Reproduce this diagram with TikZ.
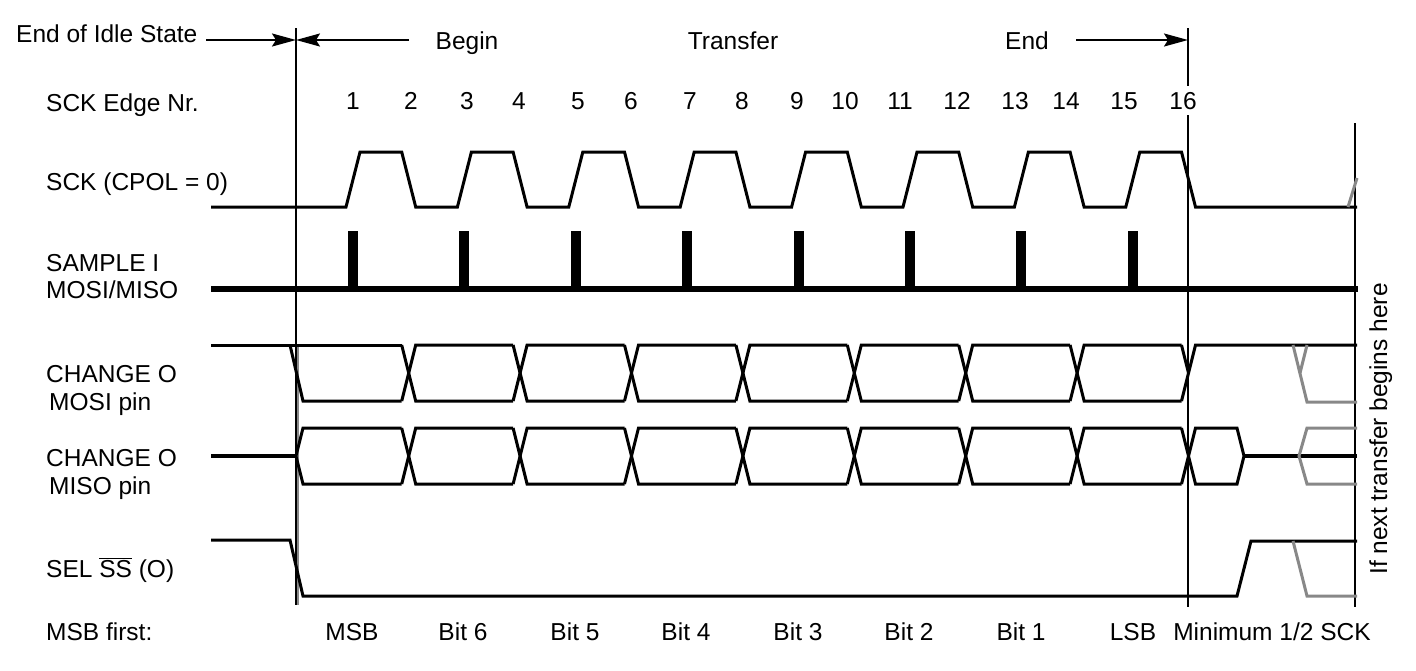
\documentclass[tikz,border=0pt]{standalone}
\usepackage{fontspec}
\setmainfont{Liberation Sans}
\usetikzlibrary{arrows.meta}
\definecolor{gr}{RGB}{136,136,136}
\begin{document}
\begin{tikzpicture}[x=1pt,y=-1pt,
  txt/.style={font=\fontsize{24.5}{29}\selectfont, inner sep=0pt},
  lbl/.style={txt, anchor=base west},
  ctr/.style={txt, anchor=base},
  sig/.style={line width=3pt, line cap=butt, line join=miter},
  thick sig/.style={line width=4pt},
  gsig/.style={sig, draw=gr},
  vline/.style={line width=2pt},
  arr/.style={line width=2pt, -{Stealth[length=24pt,width=13pt,inset=4pt]}},
  pulse/.style={fill=black, draw=none}]
\useasboundingbox (0,0) rectangle (1416,670);
\def\R{353}
\def\P{111.4}
% ---------- top labels ----------
\node[lbl] (idle) at (16,42) {End of Idle State};
\node[ctr] (begin) at (467,49) {Begin};
\node[ctr] (transfer) at (733,49) {Transfer};
\node[ctr] (endl) at (1027,49) {End};
% ---------- left labels ----------
\node[lbl] (ledge) at (46,111) {SCK Edge Nr.};
\node[lbl] (lsck) at (46,190) {SCK (CPOL = 0)};
\node[lbl] (lsam1) at (46,271) {SAMPLE I};
\node[lbl] (lsam2) at (46,298) {MOSI/MISO};
\node[lbl] (lmosi1) at (46,382) {CHANGE O};
\node[lbl] (lmosi2) at (49,410) {MOSI pin};
\node[lbl] (lmiso1) at (46,466) {CHANGE O};
\node[lbl] (lmiso2) at (49,494) {MISO pin};
\node[lbl] (lsel) at (46,577) {SEL $\overline{\hbox{SS}}$ (O)};
\node[lbl] (lmsb) at (46,640) {MSB first:};
% ---------- edge numbers ----------
\foreach \n/\x in {1/353,2/411,3/467,4/519,5/578,6/631,7/690,8/742,9/797,10/845,11/900,12/957,13/1015,14/1066,15/1124}
  \node[ctr] (e\n) at (\x,109) {\n};
\node[ctr] (e16) at (1183,109) {16};
% ---------- bit labels ----------
\foreach \t/\x/\nm in {MSB/352/b7,Bit 6/463/b6,Bit 5/575/b5,Bit 4/686/b4,Bit 3/798/b3,Bit 2/909/b2,Bit 1/1021/b1,LSB/1133/b0}
  \node[ctr] (\nm) at (\x,640) {\t};
\node[ctr] (minhalf) at (1272,640) {Minimum 1/2 SCK};
\node[txt, anchor=base, rotate=90] (nextt) at (1387,429) {If next transfer begins here};
% ---------- vertical lines ----------
\coordinate (vLtop) at (296,28);
\coordinate (vLbot) at (296,605);
\coordinate (vMtop) at (1188,28);
\coordinate (vMbot) at (1188,607);
\coordinate (vRtop) at (1355,123);
\coordinate (vRbot) at (1355,607);
\draw[gr, line width=1.5pt] (298,345) -- (298,605);
\draw[vline] (vLtop) -- (vLbot);
\draw[vline] (vMtop) -- (vMtop |- 0,86);
\draw[vline] (vMbot |- 0,115) -- (vMbot);
\draw[vline] (vRtop) -- (vRbot);
% ---------- arrows ----------
\coordinate (aL) at (296,40);
\coordinate (aM) at (1188,40);
\coordinate (idleS) at (206,40);
\coordinate (beginS) at (409,40);
\coordinate (endS) at (1076,40);
\draw[arr] (idleS) -- (aL);
\draw[arr] (beginS) -- (aL);
\draw[arr] (endS) -- (aM);
% ---------- SCK ----------
\draw[sig] (211,207)
  \foreach \k in {0,...,7} {
    -- ({\R+\k*\P-7},207) -- ({\R+\k*\P+7},152)
    -- ({\R+\k*\P+55.7-7},152) -- ({\R+\k*\P+55.7+7},207)
  } -- (1357,207);
\draw[gsig] (1348,207) -- (1357,178);
% ---------- SAMPLE ----------
\foreach \k in {0,...,7}
  \fill[pulse] ({\R+\k*\P-5},231) rectangle ({\R+\k*\P+5},289);
\draw[line width=5.5pt] (211,289) -- (1358,289);
% ---------- MOSI ----------
\draw[sig] (211,345) -- ({\R+55.7-7},345);
\draw[sig] (290,345) -- (303,401) -- ({\R+55.7-7},401);
\foreach \k in {0,...,6} {
  \pgfmathsetmacro\f{\R+55.7+\k*\P}
  \pgfmathsetmacro\g{\f+\P}
  \draw[sig] ({\f-7},345) -- ({\f+7},401) -- ({\g-7},401);
  \draw[sig] ({\f-7},401) -- ({\f+7},345) -- ({\g-7},345);
}
\def\F{1188.5}
\draw[sig] ({\F-7},345) -- (\F,373);
\draw[sig] ({\F-7},401) -- ({\F+7},345) -- (1357,345);
\draw[gsig] (1293,345) -- (1307,402) -- (1357,402);
\draw[gsig] (1307,345) -- (1300,373);
% ---------- MISO ----------
\draw[thick sig] (211,456) -- (297,456);
\draw[sig] ({\R+55.7-7},428) -- (303,428) -- (296,456) -- (303,484) -- ({\R+55.7-7},484);
\foreach \k in {0,...,6} {
  \pgfmathsetmacro\f{\R+55.7+\k*\P}
  \pgfmathsetmacro\g{\f+\P}
  \draw[sig] ({\f-7},428) -- ({\f+7},484) -- ({\g-7},484);
  \draw[sig] ({\f-7},484) -- ({\f+7},428) -- ({\g-7},428);
}
\draw[sig] ({\F-7},428) -- ({\F+7},484) -- (1237,484) -- (1244,456) -- (1237,428) -- ({\F+7},428) -- ({\F-7},484);
\draw[thick sig] (1243,456) -- (1357,456);
\draw[gsig] (1357,428) -- (1307,428) -- (1299,456) -- (1307,484) -- (1357,484);
% ---------- SEL ----------
\draw[sig] (211,540) -- (290,540) -- (303,596) -- (1237,596) -- (1251,541) -- (1357,541);
\draw[gsig] (1293,541) -- (1307,596) -- (1357,596);
\end{tikzpicture}
\end{document}
